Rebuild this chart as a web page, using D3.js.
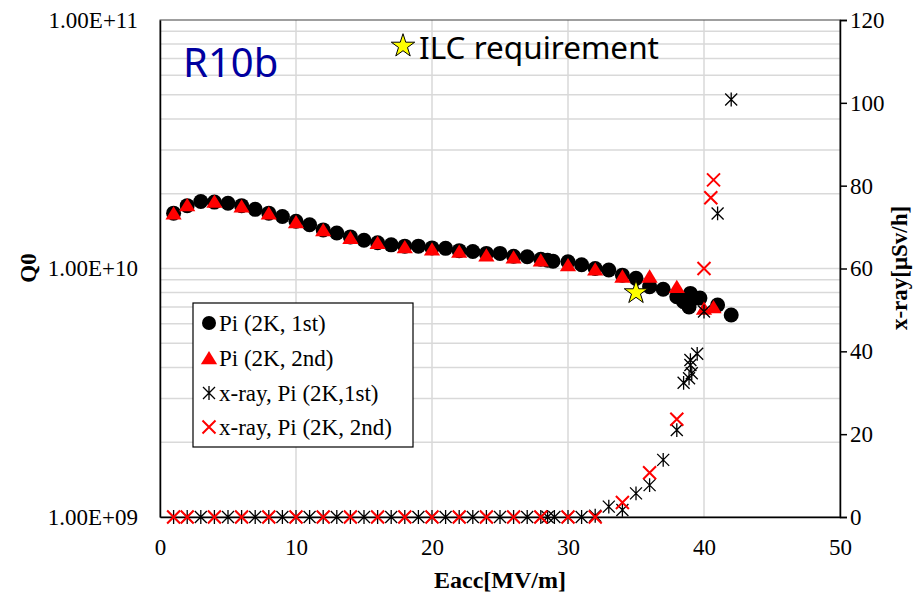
<!DOCTYPE html>
<html>
<head>
<meta charset="utf-8">
<script src="https://cdn.jsdelivr.net/npm/d3@7"></script>
<style>
  html, body { margin: 0; padding: 0; background: #fff; }
  svg { display: block; }
  text { font-family: "Liberation Serif", "Times New Roman", serif; }
</style>
</head>
<body>
<svg id="chart" width="924" height="593"></svg>
<script>
// Q0 vs Eacc, 1st test at 2K (circles)
const eacc1st = [1,2,3,4,5,6,7,8,9,10,11,12,13,14,15,16,17,18,19,20,21,22,23,24,25,26,27,28,28.5,28.9,30,31,32,33,34,35,36,37,38,38.5,38.9,39,39.3,39.7,41,42];
const q0_1st = [1.67e10,1.79e10,1.86e10,1.85e10,1.83e10,1.79e10,1.73e10,1.67e10,1.62e10,1.55e10,1.50e10,1.43e10,1.39e10,1.34e10,1.30e10,1.27e10,1.245e10,1.23e10,1.23e10,1.21e10,1.205e10,1.18e10,1.17e10,1.15e10,1.15e10,1.12e10,1.115e10,1.09e10,1.08e10,1.07e10,1.065e10,1.035e10,1.0e10,9.86e9,9.4e9,9.13e9,8.45e9,8.25e9,7.7e9,7.35e9,7.0e9,7.94e9,7.59e9,7.6e9,7.13e9,6.5e9];

// Q0 vs Eacc, 2nd test at 2K (triangles)
const eacc2nd = [1,2,4,6,8,10,12,14,16,18,20,22,24,26,28,30,32,34,36,38,40,40.7];
const q0_2nd = [1.67e10,1.80e10,1.86e10,1.78e10,1.67e10,1.54e10,1.43e10,1.33e10,1.27e10,1.22e10,1.195e10,1.17e10,1.13e10,1.11e10,1.08e10,1.033e10,9.93e9,9.3e9,9.3e9,8.45e9,6.9e9,7.0e9];

// Radiation dose rate, 1st test
const xrayE1st = [1,2,3,4,5,6,7,8,9,10,11,12,13,14,15,16,17,18,19,20,21,22,23,24,25,26,27,28,28.5,29,30,31,32,33,34,35,36,37,38,38.5,38.9,39.1,39,39,39.5,40,41,42];
const xray1st = [0,0,0,0,0,0,0,0,0,0,0,0,0,0,0,0,0,0,0,0,0,0,0,0,0,0,0,0,0,0,0,0,0.3,2.5,1.7,5.7,7.7,13.8,21,32.4,33.5,34.7,36.7,37.9,39.4,49.6,73.3,100.8];

// Radiation dose rate, 2nd test
const xrayE2nd = [1,2,4,6,8,10,12,14,16,18,20,22,24,26,28,30,32,34,36,38,40,40.5,40.7];
const xray2nd = [0,0,0,0,0,0,0,0,0,0,0,0,0,0,0,0,0,3.5,10.7,23.6,60,77.1,81.4];

// ILC goal
const ilcE = [35];
const ilcQ0 = [8e9];

const xTicks = [0,10,20,30,40,50];
const q0Ticks = [1e9,1e10,1e11];
const xrayTicks = [0,20,40,60,80,100,120];

const legendLabels = ["Pi (2K, 1st)", "Pi (2K, 2nd)", "x-ray, Pi (2K,1st)", "x-ray, Pi (2K, 2nd)"];

const svg = d3.select("#chart");
const plotL = 160, plotR = 840, plotT = 20, plotB = 517;

const x = d3.scaleLinear().domain([0, 50]).range([plotL, plotR]);
const yQ = d3.scaleLog().domain([1e9, 1e11]).range([plotB, plotT]);
const yX = d3.scaleLinear().domain([0, 120]).range([plotB, plotT]);

const fmtSci = d => {
  const e = Math.round(Math.log10(d));
  const m = d / Math.pow(10, e);
  return m.toFixed(2) + "E+" + String(e).padStart(2, "0");
};

// gridlines
const grid = svg.append("g").attr("stroke", "#d9d9d9").attr("stroke-width", 1.5);
const minor = [];
[1e9, 1e10].forEach(dec => { for (let k = 2; k <= 10; k++) minor.push(dec * k); });
grid.selectAll("line.h").data(minor.filter(v => v < 1e11)).join("line")
  .attr("x1", plotL).attr("x2", plotR)
  .attr("y1", d => yQ(d)).attr("y2", d => yQ(d));
grid.selectAll("line.v").data(xTicks.filter(v => v > 0 && v < 50)).join("line")
  .attr("x1", d => x(d)).attr("x2", d => x(d))
  .attr("y1", plotT).attr("y2", plotB);

// plot frame
svg.append("rect").attr("x", plotL).attr("y", plotT).attr("width", plotR - plotL).attr("height", plotB - plotT)
  .attr("fill", "none").attr("stroke", "#404040").attr("stroke-width", 1);

// axes
const axFont = 23;
const gx = svg.append("g").attr("transform", `translate(0,${plotB})`)
  .call(d3.axisBottom(x).tickValues(xTicks).tickSize(0).tickPadding(22));
const gl = svg.append("g").attr("transform", `translate(${plotL},0)`)
  .call(d3.axisLeft(yQ).tickValues(q0Ticks).tickFormat(fmtSci).tickSize(0).tickPadding(22));
const gr = svg.append("g").attr("transform", `translate(${plotR},0)`)
  .call(d3.axisRight(yX).tickValues(xrayTicks).tickSize(7).tickPadding(3));
[gx, gl, gr].forEach(g => {
  g.attr("font-size", null).attr("font-family", null);
  g.selectAll("text").attr("font-size", axFont).attr("fill", "#000");
  g.select(".domain").attr("stroke", "#000").attr("stroke-width", 1.5);
  g.selectAll(".tick line").attr("stroke", "#000").attr("stroke-width", 1.5);
});

// axis titles
svg.append("text").attr("x", 500).attr("y", 588).attr("text-anchor", "middle")
  .attr("font-size", 24).attr("font-weight", "bold").text("Eacc[MV/m]");
svg.append("text").attr("transform", "translate(36,268) rotate(-90)").attr("text-anchor", "middle")
  .attr("font-size", 23).attr("font-weight", "bold").text("Q0");
svg.append("text").attr("transform", "translate(907,268) rotate(-90)").attr("text-anchor", "middle")
  .attr("font-size", 23).attr("font-weight", "bold").text("x-ray[μSv/h]");

// marker shapes
const triPath = (s) => `M0,${-s*0.5}L${s*0.58},${s*0.45}L${-s*0.58},${s*0.45}Z`;
const crossPath = (s) => `M${-s},${-s}L${s},${s}M${-s},${s}L${s},${-s}`;
const starPath = (s) => `M${-s},${-s}L${s},${s}M${-s},${s}L${s},${-s}M0,${-s*1.15}L0,${s*1.15}`;

const pts1 = d3.zip(eacc1st, q0_1st);
const pts2 = d3.zip(eacc2nd, q0_2nd);
const xr1 = d3.zip(xrayE1st, xray1st);
const xr2 = d3.zip(xrayE2nd, xray2nd);

svg.append("g").selectAll("circle").data(pts1).join("circle")
  .attr("cx", d => x(d[0])).attr("cy", d => yQ(d[1])).attr("r", 7.5).attr("fill", "#000");

svg.append("g").selectAll("path").data(pts2).join("path")
  .attr("transform", d => `translate(${x(d[0])},${yQ(d[1])})`)
  .attr("d", triPath(14)).attr("fill", "#ff0000");

svg.append("g").selectAll("path").data(xr1).join("path")
  .attr("transform", d => `translate(${x(d[0])},${yX(d[1])})`)
  .attr("d", starPath(6)).attr("fill", "none").attr("stroke", "#000").attr("stroke-width", 1.3);

svg.append("g").selectAll("path").data(xr2).join("path")
  .attr("transform", d => `translate(${x(d[0])},${yX(d[1])})`)
  .attr("d", crossPath(6.5)).attr("fill", "none").attr("stroke", "#ff0000").attr("stroke-width", 2);

// ILC requirement star
const star5 = d3.symbol().type(d3.symbolStar).size(170);
svg.append("g").selectAll("path").data(d3.zip(ilcE, ilcQ0)).join("path")
  .attr("transform", d => `translate(${x(d[0])},${yQ(d[1])})`)
  .attr("d", star5()).attr("fill", "#ffff00").attr("stroke", "#000").attr("stroke-width", 1);

// annotations
svg.append("text").attr("x", 183).attr("y", 77).style("font-family", "'Noto Sans', sans-serif")
  .attr("font-size", 40).attr("fill", "#0000a0").text("R10b");
svg.append("path").attr("transform", "translate(403,46)").attr("d", star5())
  .attr("fill", "#ffff00").attr("stroke", "#000").attr("stroke-width", 1);
svg.append("text").attr("x", 419).attr("y", 59).style("font-family", "'Noto Sans', sans-serif")
  .attr("font-size", 31.5).attr("fill", "#000").text("ILC requirement");

// legend
const lg = svg.append("g");
lg.append("rect").attr("x", 193).attr("y", 303).attr("width", 220).attr("height", 144)
  .attr("fill", "#fff").attr("stroke", "#000").attr("stroke-width", 1.2);
const rows = [323, 358, 393, 427];
const lx = 209;
lg.append("circle").attr("cx", lx).attr("cy", rows[0]).attr("r", 7).attr("fill", "#000");
lg.append("path").attr("transform", `translate(${lx},${rows[1]})`).attr("d", triPath(14)).attr("fill", "#ff0000");
lg.append("path").attr("transform", `translate(${lx},${rows[2]})`).attr("d", starPath(6))
  .attr("stroke", "#000").attr("stroke-width", 1.3).attr("fill", "none");
lg.append("path").attr("transform", `translate(${lx},${rows[3]})`).attr("d", crossPath(6.5))
  .attr("stroke", "#ff0000").attr("stroke-width", 2).attr("fill", "none");
lg.selectAll("text").data(legendLabels).join("text")
  .attr("x", 219).attr("y", (d, i) => rows[i] + 8).attr("font-size", 23).text(d => d);
</script>
</body>
</html>
